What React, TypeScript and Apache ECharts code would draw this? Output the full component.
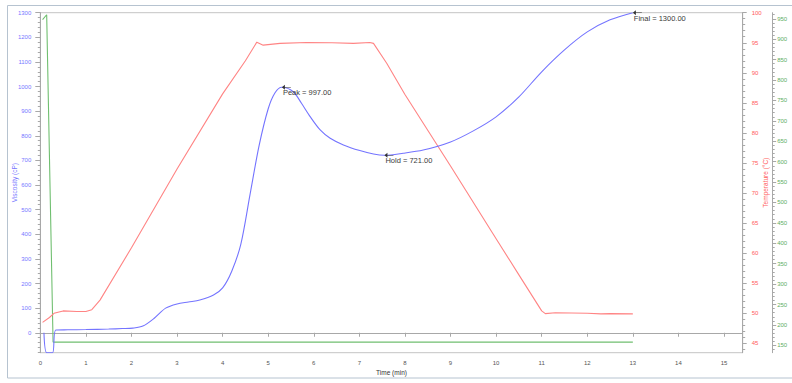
import React, { useEffect, useRef } from "react";
import * as echarts from "echarts";

// Viscosity (blue, left axis)
const timeBlue = [0.08, 0.14, 0.27, 0.34, 0.6, 1.0, 1.5, 1.8, 2.03, 2.25, 2.5, 2.75, 3.0, 3.25, 3.5, 3.8, 4.0, 4.2, 4.4, 4.6, 4.8, 5.0, 5.15, 5.3, 5.55, 5.73, 5.92, 6.14, 6.36, 6.65, 7.01, 7.31, 7.55, 7.96, 8.4, 9.0, 9.5, 10.0, 10.5, 11.0, 11.5, 12.0, 12.5, 13.0];
const viscosity = [0, -81, -81, 11, 12, 13, 15, 17, 19, 27, 59, 100, 117, 125, 133, 153, 182, 250, 360, 560, 760, 910, 975, 997, 979, 932, 878, 824, 790, 763, 740, 726, 721, 729, 742, 775, 820, 877, 958, 1060, 1149, 1222, 1271, 1300];

// Temperature (red, right axis)
const timeRed = [0.05, 0.2, 0.3, 0.5, 0.8, 1.0, 1.13, 1.31, 2.0, 3.0, 4.0, 4.5, 4.75, 4.89, 5.26, 5.84, 6.4, 6.87, 7.23, 7.31, 7.6, 8.0, 9.0, 10.0, 10.5, 11.0, 11.08, 11.3, 12.0, 12.3, 12.5, 13.0];
const temperature = [48.5, 49.3, 50.0, 50.4, 50.3, 50.3, 50.6, 52.2, 60.9, 74.0, 86.5, 92.0, 95.1, 94.6, 94.9, 95.05, 95.0, 94.9, 95.05, 94.9, 91.6, 86.4, 74.5, 62.4, 56.4, 50.4, 49.95, 50.1, 50.0, 49.9, 49.95, 49.9];

// Third trace (green, outer right axis)
const timeGreen = [0.05, 0.14, 0.28, 13.0];
const greenValues = [948, 960, 158, 158];

// Tick labels
const xTicks = [0, 1, 2, 3, 4, 5, 6, 7, 8, 9, 10, 11, 12, 13, 14, 15];
const viscTicks = [0, 100, 200, 300, 400, 500, 600, 700, 800, 900, 1000, 1100, 1200, 1300];
const tempTicks = [45, 50, 55, 60, 65, 70, 75, 80, 85, 90, 95, 100];
const greenTicks = [150, 200, 250, 300, 350, 400, 450, 500, 550, 600, 650, 700, 750, 800, 850, 900, 950];

// Annotations
const annotationNames = ["Peak", "Hold", "Final"];
const annotationTimes = [5.3, 7.55, 13.0];
const annotationValues = [997, 721, 1300];

const X_MIN = 0, X_MAX = 15.41;
const V_MIN = -81, V_MAX = 1300;
const T_MIN = 43.45, T_MAX = 100;
const G_MIN = 132, G_MAX = 965;

const FONT = "Liberation Sans";
const BLUE = "#7474ff";
const RED = "#ff8484";
const GREEN = "#70bf70";
const BLUE_TXT = "#7777ff";
const RED_TXT = "#ff5c5c";
const GREEN_TXT = "#5fae5f";
const AXIS_GRAY = "#a8a8a8";

function range(a: number, b: number, s: number) {
  const out: number[] = [];
  for (let v = a; v <= b + 1e-9; v += s) out.push(Math.round(v * 1000) / 1000);
  return out;
}

const plain = (v: number) => String(v);

export default function App() {
  const ref = useRef<HTMLDivElement>(null);
  useEffect(() => {
    if (!ref.current) return;
    const chart = echarts.init(ref.current, undefined, { renderer: "svg" });
    const pairs = (xs: number[], ys: number[]) => xs.map((x, i) => [x, ys[i]]);

    const minorAxis = (min: number, max: number, vals: number[], position: string, offset: number) => ({
      type: "value",
      min,
      max,
      position,
      offset,
      axisLine: { show: false },
      axisLabel: { show: false },
      splitLine: { show: false },
      axisTick: { show: true, length: 2.5, customValues: vals, lineStyle: { color: AXIS_GRAY } },
    });

    const option: any = {
      animation: false,
      grid: {
        left: 40.3,
        right: 49.3,
        top: 12.7,
        bottom: 30.3,
        show: true,
        borderColor: "#c4c4c4",
        borderWidth: 1,
        containLabel: false,
        outerBoundsMode: "none",
      },
      graphic: [
        {
          type: "rect",
          shape: { x: 7.5, y: 5.5, width: 790, height: 372.5 },
          style: { fill: "none", stroke: "#b6c3d0", lineWidth: 1 },
          silent: true,
        },
      ],
      xAxis: {
        type: "value",
        min: X_MIN,
        max: X_MAX,
        name: "Time (min)",
        nameLocation: "middle",
        nameGap: 16,
        nameMoveOverlap: false,
        nameTextStyle: { color: "#333", fontSize: 6.5, fontFamily: FONT },
        axisLine: { show: true, lineStyle: { color: AXIS_GRAY } },
        axisTick: { show: true, length: 4, customValues: xTicks, lineStyle: { color: AXIS_GRAY } },
        axisLabel: { customValues: xTicks, formatter: plain, color: "#555", fontSize: 6, fontFamily: FONT, margin: 7 },
        splitLine: { show: false },
      },
      yAxis: [
        {
          type: "value",
          min: V_MIN,
          max: V_MAX,
          position: "left",
          name: "Viscosity (cP)",
          nameLocation: "middle",
          nameRotate: 90,
          nameGap: 22,
          nameMoveOverlap: false,
          nameTextStyle: { color: BLUE_TXT, fontSize: 6.5, fontFamily: FONT },
          axisLine: { show: true, lineStyle: { color: AXIS_GRAY } },
          axisTick: { show: true, length: 5, customValues: viscTicks, lineStyle: { color: AXIS_GRAY } },
          axisLabel: { customValues: viscTicks, formatter: plain, color: BLUE_TXT, fontSize: 6, fontFamily: FONT, margin: 9 },
          splitLine: { show: false },
        },
        {
          type: "value",
          min: T_MIN,
          max: T_MAX,
          position: "right",
          offset: 0,
          name: "Temperature (°C)",
          nameLocation: "middle",
          nameRotate: 90,
          nameGap: 19,
          nameMoveOverlap: false,
          nameTextStyle: { color: RED_TXT, fontSize: 6.5, fontFamily: FONT },
          axisLine: { show: true, lineStyle: { color: AXIS_GRAY } },
          axisTick: { show: true, length: 4, customValues: tempTicks, lineStyle: { color: AXIS_GRAY } },
          axisLabel: { customValues: tempTicks, formatter: plain, color: RED_TXT, fontSize: 6, fontFamily: FONT, margin: 9 },
          splitLine: { show: false },
        },
        {
          type: "value",
          min: G_MIN,
          max: G_MAX,
          position: "right",
          offset: 29.5,
          axisLine: { show: true, lineStyle: { color: AXIS_GRAY } },
          axisTick: { show: true, length: 4, customValues: greenTicks, lineStyle: { color: AXIS_GRAY } },
          axisLabel: { customValues: greenTicks, formatter: plain, color: GREEN_TXT, fontSize: 6, fontFamily: FONT, margin: 5 },
          splitLine: { show: false },
        },
        minorAxis(V_MIN, V_MAX, range(-80, 1300, 20), "left", 0),
        minorAxis(T_MIN, T_MAX, range(44, 100, 1), "right", 0),
        minorAxis(G_MIN, G_MAX, range(140, 960, 10), "right", 29.5),
      ],
      series: [
        {
          type: "line",
          name: "Viscosity",
          yAxisIndex: 0,
          data: pairs(timeBlue, viscosity),
          showSymbol: false,
          symbol: "none",
          smooth: 0.3,
          clip: true,
          lineStyle: { color: BLUE, width: 1.1 },
          z: 4,
          markPoint: {
            symbol: "path://M0,5 L6,0 L6,4.4 L18,4.4 L18,5.6 L6,5.6 L6,10 Z",
            symbolSize: [9, 5],
            symbolOffset: [4.5, 0],
            itemStyle: { color: "#333" },
            label: {
              show: true,
              position: [1, 4],
              formatter: "{b}",
              color: "#3a3a3a",
              fontSize: 7.5,
              fontFamily: FONT,
            },
            data: annotationNames.map((n, i) => ({
              name: `${n} = ${annotationValues[i].toFixed(2)}`,
              coord: [annotationTimes[i], annotationValues[i]],
            })),
          },
        },
        {
          type: "line",
          name: "Temperature",
          yAxisIndex: 1,
          data: pairs(timeRed, temperature),
          showSymbol: false,
          symbol: "none",
          clip: true,
          lineStyle: { color: RED, width: 1.1 },
          z: 3,
        },
        {
          type: "line",
          name: "Other",
          yAxisIndex: 2,
          data: pairs(timeGreen, greenValues),
          showSymbol: false,
          symbol: "none",
          clip: true,
          lineStyle: { color: GREEN, width: 1.1 },
          z: 2,
        },
      ],
    };
    chart.setOption(option);
    return () => chart.dispose();
  }, []);
  return (
    <div
      ref={ref}
      style={{ position: "fixed", left: 0, top: 0, width: 792, height: 383, background: "#fff" }}
    />
  );
}
